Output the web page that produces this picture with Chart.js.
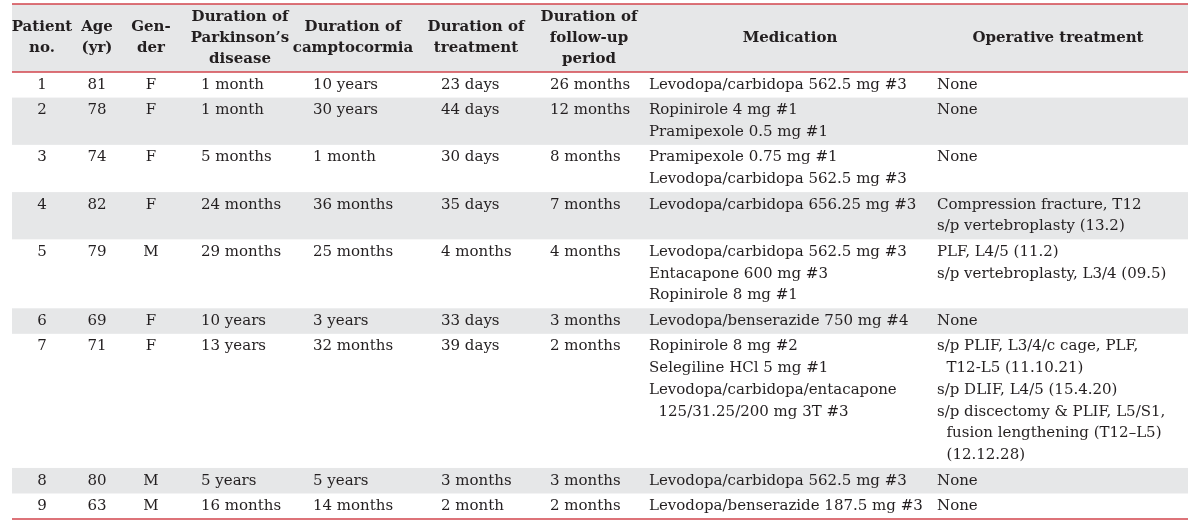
<!DOCTYPE html>
<html>
<head>
<meta charset="utf-8">
<title>Camptocormia patients</title>
<script src="https://cdn.jsdelivr.net/npm/chart.js@4.4.1/dist/chart.umd.min.js"></script>
<style>
  html, body { margin: 0; padding: 0; background: #fff; }
</style>
</head>
<body>
<canvas id="table" width="1200" height="523"></canvas>
<script>
// column headers (one entry per printed line)
var headers = [
  ['Patient', 'no.'],
  ['Age', '(yr)'],
  ['Gen-', 'der'],
  ['Duration of', 'Parkinson\u2019s', 'disease'],
  ['Duration of', 'camptocormia'],
  ['Duration of', 'treatment'],
  ['Duration of', 'follow-up', 'period'],
  ['Medication'],
  ['Operative treatment']
];

var patientNo = ['1', '2', '3', '4', '5', '6', '7', '8', '9'];
var ages = [81, 78, 74, 82, 79, 69, 71, 80, 63];
var genders = ['F', 'F', 'F', 'F', 'M', 'F', 'F', 'M', 'M'];
var parkinsonDuration = ['1 month', '1 month', '5 months', '24 months', '29 months', '10 years', '13 years', '5 years', '16 months'];
var camptoDuration = ['10 years', '30 years', '1 month', '36 months', '25 months', '3 years', '32 months', '5 years', '14 months'];
var treatmentDuration = ['23 days', '44 days', '30 days', '35 days', '4 months', '33 days', '39 days', '3 months', '2 month'];
var followUp = ['26 months', '12 months', '8 months', '7 months', '4 months', '3 months', '2 months', '3 months', '2 months'];
var medication = [
  ['Levodopa/carbidopa 562.5 mg #3'],
  ['Ropinirole 4 mg #1', 'Pramipexole 0.5 mg #1'],
  ['Pramipexole 0.75 mg #1', 'Levodopa/carbidopa 562.5 mg #3'],
  ['Levodopa/carbidopa 656.25 mg #3'],
  ['Levodopa/carbidopa 562.5 mg #3', 'Entacapone 600 mg #3', 'Ropinirole 8 mg #1'],
  ['Levodopa/benserazide 750 mg #4'],
  ['Ropinirole 8 mg #2', 'Selegiline HCl 5 mg #1', 'Levodopa/carbidopa/entacapone', '  125/31.25/200 mg 3T #3'],
  ['Levodopa/carbidopa 562.5 mg #3'],
  ['Levodopa/benserazide 187.5 mg #3']
];
var operative = [
  ['None'],
  ['None'],
  ['None'],
  ['Compression fracture, T12', 's/p vertebroplasty (13.2)'],
  ['PLF, L4/5 (11.2)', 's/p vertebroplasty, L3/4 (09.5)'],
  ['None'],
  ['s/p PLIF, L3/4/c cage, PLF,', '  T12-L5 (11.10.21)', 's/p DLIF, L4/5 (15.4.20)', 's/p discectomy & PLIF, L5/S1,', '  fusion lengthening (T12\u2013L5)', '  (12.12.28)'],
  ['None'],
  ['None']
];

var columns = [patientNo, ages, genders, parkinsonDuration, camptoDuration, treatmentDuration, followUp, medication, operative];

// layout: anchor of each column on the x scale (0..1200)
var colLayout = [
  { head: 42, body: 42, align: 'center' },
  { head: 97, body: 97, align: 'center' },
  { head: 151, body: 151, align: 'center' },
  { head: 240, body: 201, align: 'left' },
  { head: 353, body: 313, align: 'left' },
  { head: 476, body: 441, align: 'left' },
  { head: 589, body: 550, align: 'left' },
  { head: 790, body: 649, align: 'left' },
  { head: 1058, body: 937, align: 'left' }
];
var TABLE_LEFT = 12, TABLE_RIGHT = 1188;
var PAD_U = 0.175;        // row padding, in line units
var HEADER_U = 3.134;     // header band height, in line units
var HEADER_STEP = 0.97;   // header line spacing
var BAND = '#e6e7e8', RULE = '#d2444c', INK = '#231f20';
var FONT = '15px "DejaVu Serif"', BOLD = 'bold 15px "DejaVu Serif"';

function cellLines(v) { return Array.isArray(v) ? v : [String(v)]; }

var rowLines = patientNo.map(function (_, r) {
  var n = 1;
  columns.forEach(function (col) { n = Math.max(n, cellLines(col[r]).length); });
  return n;
});
var rowTop = [];
var acc = HEADER_U;
rowLines.forEach(function (n) { rowTop.push(acc); acc += n + PAD_U; });
var totalU = acc;

var datasets = [];
headers.forEach(function (h, c) {
  datasets.push({
    label: 'head ' + c,
    bold: true,
    align: 'center',
    data: h.map(function (t, j) {
      return { x: colLayout[c].head, y: HEADER_U / 2 + (j - (h.length - 1) / 2) * HEADER_STEP, text: t };
    })
  });
});
columns.forEach(function (col, c) {
  var pts = [];
  col.forEach(function (v, r) {
    cellLines(v).forEach(function (t, j) {
      pts.push({ x: colLayout[c].body, y: rowTop[r] + PAD_U / 2 + j + 0.5, text: t });
    });
  });
  datasets.push({ label: headers[c].join(' '), bold: false, align: colLayout[c].align, data: pts });
});

var tablePlugin = {
  id: 'tablePlugin',
  beforeDatasetsDraw: function (chart) {
    var ctx = chart.ctx, xs = chart.scales.x, ys = chart.scales.y;
    var left = xs.getPixelForValue(TABLE_LEFT), right = xs.getPixelForValue(TABLE_RIGHT);
    ctx.save();
    ctx.fillStyle = BAND;
    function band(a, b) {
      var t = ys.getPixelForValue(a), bt = ys.getPixelForValue(b);
      ctx.fillRect(left, t, right - left, bt - t);
    }
    band(0, HEADER_U);
    rowTop.forEach(function (t, r) {
      if (r % 2 === 1) band(t, t + rowLines[r] + PAD_U);
    });
    ctx.strokeStyle = RULE;
    ctx.lineWidth = 1.5;
    [0, HEADER_U, totalU].forEach(function (v) {
      var py = ys.getPixelForValue(v);
      ctx.beginPath();
      ctx.moveTo(left, py);
      ctx.lineTo(right, py);
      ctx.stroke();
    });
    ctx.restore();
  },
  afterDatasetsDraw: function (chart) {
    var ctx = chart.ctx;
    ctx.save();
    ctx.fillStyle = INK;
    ctx.textBaseline = 'middle';
    chart.data.datasets.forEach(function (ds, i) {
      var meta = chart.getDatasetMeta(i);
      ctx.font = ds.bold ? BOLD : FONT;
      ctx.textAlign = ds.align;
      meta.data.forEach(function (el, k) {
        ctx.fillText(ds.data[k].text, el.x, el.y);
      });
    });
    ctx.restore();
  }
};

new Chart(document.getElementById('table'), {
  type: 'scatter',
  data: { datasets: datasets },
  options: {
    responsive: false,
    animation: false,
    events: [],
    layout: { padding: { top: 4, bottom: 4, left: 0, right: 0 } },
    elements: { point: { radius: 0, hoverRadius: 0 } },
    plugins: { legend: { display: false }, tooltip: { enabled: false } },
    scales: {
      x: { type: 'linear', min: 0, max: 1200, display: false },
      y: { type: 'linear', min: 0, max: totalU, reverse: true, display: false }
    }
  },
  plugins: [tablePlugin]
});
</script>
</body>
</html>
